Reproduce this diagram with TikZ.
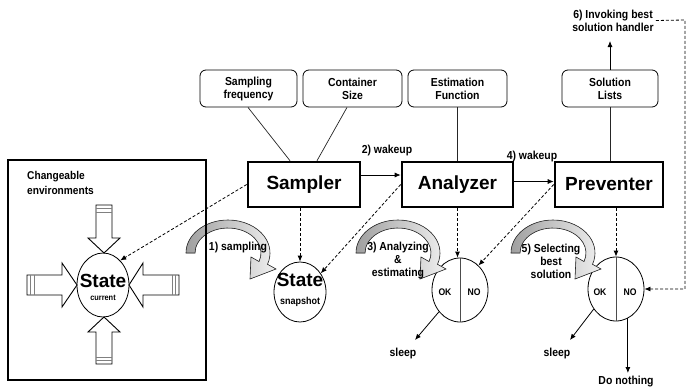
\documentclass[tikz,border=0pt]{standalone}
\usepackage{fontspec}
\setmainfont{Liberation Sans}
% narrower cut of the same face, used at a larger size for the small labels
\newfontfamily\labelfont{Liberation Sans}[FakeStretch=0.9]
\usetikzlibrary{shapes.geometric, arrows.meta, calc}

\begin{document}
\begin{tikzpicture}[x=1pt, y=-1pt,
  font=\labelfont\bfseries\fontsize{11.6}{13}\selectfont,
  param/.style={draw, rounded corners=6pt, line width=0.8pt, minimum height=37pt,
    align=center, inner sep=0pt},
  agent/.style={draw, line width=2.6pt, minimum height=45pt, inner sep=0pt,
    font=\normalfont\bfseries\fontsize{19}{22}\selectfont},
  link/.style={line width=0.7pt, black!85},
  flow/.style={line width=0.8pt, -{Latex[length=6pt,width=5pt]}},
  dflow/.style={line width=0.8pt, dash pattern=on 3pt off 2pt, -{Latex[length=6pt,width=5pt]}},
  blob/.style={draw, ellipse, line width=0.8pt, inner sep=0pt, fill=white},
  lbl/.style={align=center, inner sep=0pt},
  hollow/.style={draw, fill=white, line width=0.9pt, line join=miter},
  stripe/.style={gray, line width=1pt},
  turn/.pic={
    \fill[left color=gray!75, right color=gray!12, draw=gray!35!black, line width=0.6pt]
      (180:33 and 25) -- (180:42 and 33)
      arc[start angle=180, end angle=380, x radius=42, y radius=33]
      -- (48,16) -- (22,26) -- (23,4) -- (20:33 and 25)
      arc[start angle=380, end angle=180, x radius=33, y radius=25] -- cycle;
  },
]
\useasboundingbox (0,0) rectangle (686,389);
\fill[white] (0,0) rectangle (686,389);

% parameter boxes
\node[param, minimum width=97pt] (sfreq) at (248.5,88.5) {Sampling\\frequency};
\node[param, minimum width=99pt] (csize) at (352.5,88.5) {Container\\Size};
\node[param, minimum width=99pt] (efunc) at (457.5,88.5) {Estimation\\Function};
\node[param, minimum width=96pt] (slist) at (610,88.5) {Solution\\Lists};

% agents
\node[agent, minimum width=112pt] (sampler) at (304,184.5) {Sampler};
\node[agent, minimum width=111pt] (analyzer) at (457.5,184.5) {Analyzer};
\node[agent, minimum width=108pt] (preventer) at (609,184.5) {Preventer};

% states and decisions
\node[blob, minimum width=52pt, minimum height=64pt] (current) at (103,285) {};
\node[blob, minimum width=52pt, minimum height=60pt] (snapshot) at (300,292) {};
\node[blob, minimum width=56pt, minimum height=64pt] (judgeA) at (460,290) {};
\node[blob, minimum width=56pt, minimum height=64pt] (judgeB) at (616,289) {};
\draw[gray!60!black, line width=0.8pt] (judgeA.north) -- (judgeA.south);
\draw[gray!60!black, line width=0.8pt] (judgeB.north) -- (judgeB.south);

\node[lbl, font=\normalfont\bfseries\fontsize{19}{20}\selectfont] (curtitle) at (103,281) {State};
\node[lbl, font=\labelfont\bfseries\fontsize{8.2}{9}\selectfont] (curtag) at (103,298) {current};
\node[lbl, font=\normalfont\bfseries\fontsize{19}{20}\selectfont] (snaptitle) at (300,280) {State};
\node[lbl, font=\labelfont\bfseries\fontsize{10}{11}\selectfont] (snaptag) at (300,302) {snapshot};
\node[lbl, font=\labelfont\bfseries\fontsize{9.6}{10}\selectfont] (okA) at (445,292) {OK};
\node[lbl, font=\labelfont\bfseries\fontsize{9.6}{10}\selectfont] (noA) at (474,292) {NO};
\node[lbl, font=\labelfont\bfseries\fontsize{9.6}{10}\selectfont] (okB) at (600,292) {OK};
\node[lbl, font=\labelfont\bfseries\fontsize{9.6}{10}\selectfont] (noB) at (630,292) {NO};

% environment pressure arrows around the current state
\draw[hollow] (96,205) -- (112,205) -- (112,238) -- (120,238) -- (104,253)
  -- (88,238) -- (96,238) -- cycle;
\draw[stripe] (96,208.5) -- (112,208.5) (96,212) -- (112,212);
\draw[hollow] (96,364) -- (112,364) -- (112,332) -- (120,332) -- (104,317)
  -- (88,332) -- (96,332) -- cycle;
\draw[stripe] (96,360.5) -- (112,360.5) (96,357) -- (112,357);
\draw[hollow] (27,275) -- (27,295) -- (62,295) -- (62,307) -- (77,285)
  -- (62,263) -- (62,275) -- cycle;
\draw[stripe] (30.5,275) -- (30.5,295) (34,275) -- (34,295);
\draw[hollow] (179,275) -- (179,295) -- (143,295) -- (143,307) -- (129,285)
  -- (143,263) -- (143,275) -- cycle;
\draw[stripe] (175.5,275) -- (175.5,295) (172,275) -- (172,295);

% curved activity arrows
\pic at (228,253) {turn};
\pic at (398,253) {turn};
\pic at (553,253) {turn};

% environment frame
\node[draw, line width=2.4pt, minimum width=198pt, minimum height=220pt, inner sep=0pt]
  (envbox) at (107,270) {};
\node[lbl, align=left, anchor=west, font=\labelfont\bfseries\fontsize{11.3}{15}\selectfont]
  (envtext) at (27,182.5) {Changeable\\environments};

% parameter links
\draw[link] ($(sfreq.south)+(-0.5,0)$) -- ($(sampler.north)+(-14,0)$);
\draw[link] ($(csize.south)+(-5.5,0)$) -- ($(sampler.north)+(13,0)$);
\draw[link] (efunc.south) -- (analyzer.north);
\draw[link] (slist.south) -- (slist.south |- preventer.north);

% wakeup flow
\draw[flow] ($(sampler.east)+(0,-9.5)$) -- ($(analyzer.west)+(0,-9.5)$);
\draw[flow] ($(analyzer.east)+(0,-3)$) -- ($(preventer.west)+(0,-3)$);
\node[lbl] (wake1) at (387,150) {2) wakeup};
\node[lbl] (wake2) at (532,156) {4) wakeup};

% solution handler
\node[lbl] (invoke) at (613,20.5) {6) Invoking best\\solution handler};
\coordinate (invtip) at (610,41);
\draw[flow] (slist.north) -- (slist.north |- invtip);
\coordinate (fbtop) at (685,20);
\draw[dflow] ($(invoke.east)+(2,0)$) -- (fbtop) |- (judgeB.east);

% data flow (dashed)
\draw[dflow] (sampler.south -| snapshot.north) -- (snapshot.north);
\draw[dflow] (analyzer.south) -- (analyzer.south |- judgeA.north);
\draw[dflow] (preventer.south -| judgeB.north) -- (judgeB.north);
\draw[dflow] (sampler.west) -- (current.55);
\draw[dflow] (analyzer.west) -- (snapshot.42);
\draw[dflow] (preventer.west) -- (judgeA.53);

% activity labels
\node[lbl] (act1) at (238,248) {1) sampling};
\node[lbl] (act3) at (398,261) {3) Analyzing\\\&\\estimating};
\node[lbl] (act5) at (551,261) {5) Selecting\\best\\solution};

% outcomes
\coordinate (sleepAtip) at (415,340);
\coordinate (sleepBtip) at (570,340);
\coordinate (nothingtip) at (628,373);
\draw[flow] (judgeA.226) -- (sleepAtip);
\draw[flow] (judgeB.222) -- (sleepBtip);
\draw[flow] (judgeB.292) -- (judgeB.292 |- nothingtip);
\node[lbl] (sleepA) at (403,353) {sleep};
\node[lbl] (sleepB) at (557,353) {sleep};
\node[lbl] (nothing) at (626,382) {Do nothing};
\end{tikzpicture}
\end{document}
